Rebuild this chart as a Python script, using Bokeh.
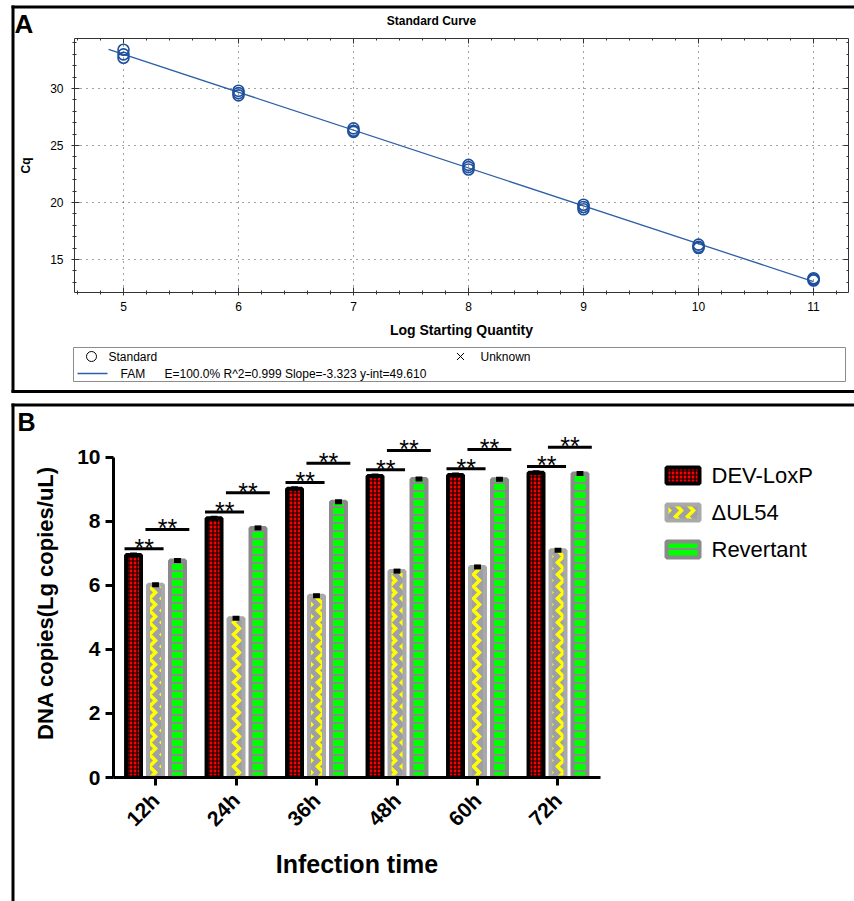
import math
from bokeh.plotting import figure
from bokeh.models import LinearAxis, FixedTicker, SingleIntervalTicker, Range1d
from bokeh.embed import file_html
from bokeh.resources import INLINE
from bokeh.core.properties import value

FONT = "Liberation Sans"

# ---------------- Panel A data (standard curve) ----------------
log_qty = [5, 5, 5, 6, 6, 6, 7, 7, 7, 8, 8, 8, 9, 9, 9, 10, 10, 10, 11, 11, 11]
cq = [33.4, 33.0, 32.7, 29.8, 29.6, 29.4, 26.5, 26.3, 26.2, 23.3, 23.1, 22.9,
      19.8, 19.6, 19.4, 16.3, 16.1, 16.0, 13.35, 13.25, 13.15]
fit_slope = -3.323
fit_intercept = 49.610
fit_eff = "100.0%"
fit_r2 = 0.999
fit_x = [4.87, 11.0]
fit_y = [fit_intercept + fit_slope * v for v in fit_x]
x_major = [5, 6, 7, 8, 9, 10, 11]
y_major = [15, 20, 25, 30]

# ---------------- Panel B data (bar chart) ----------------
times = ["12h", "24h", "36h", "48h", "60h", "72h"]
dev_loxp = [6.95, 8.10, 9.02, 9.42, 9.45, 9.52]
d_ul54 = [6.02, 4.98, 5.68, 6.45, 6.58, 7.10]
revertant = [6.78, 7.80, 8.62, 9.33, 9.32, 9.50]
series_names = ["DEV-LoxP", "\u0394UL54", "Revertant"]
sig_marks = ["**"] * 6

dev_style = dict(fill_color="#ff0000", line_color="black", line_width=4, hatch_pattern="cross",
                 hatch_color="black", hatch_scale=4, hatch_weight=1.2)
ul_style = dict(fill_color="#9e9ea6", line_color="#a9a9a9", line_width=4,
                hatch_pattern="vertical_wave", hatch_color="#ffff00", hatch_scale=12,
                hatch_weight=3.5)
rev_style = dict(fill_color="#00ff00", line_color="#8a8a8a", line_width=4,
                 hatch_pattern="horizontal_line", hatch_color="#8a8a8a", hatch_scale=8,
                 hatch_weight=2)

# ======================= Panel A =======================
pA = figure(width=840, height=381, x_range=(4.574, 11.304), y_range=(12.1, 34.39),
            output_backend="svg", toolbar_location=None,
            min_border_left=60, min_border_right=6, min_border_top=30, min_border_bottom=97,
            styles={"position": "absolute", "left": "14px", "top": "8px"})
pA.outline_line_color = None
pA.xaxis.ticker = SingleIntervalTicker(interval=1, num_minor_ticks=5)
pA.yaxis.ticker = SingleIntervalTicker(interval=5, num_minor_ticks=5)
for ax in (pA.xaxis[0], pA.yaxis[0]):
    ax.axis_line_color = "#333333"
    ax.major_tick_line_color = "#333333"
    ax.minor_tick_line_color = "#333333"
    ax.major_tick_in = 5
    ax.major_tick_out = 3
    ax.minor_tick_in = 2
    ax.minor_tick_out = 2
    ax.major_label_text_font = FONT
    ax.major_label_text_font_size = "12px"
    ax.major_label_text_color = "black"
    ax.axis_label_text_font = FONT
    ax.axis_label_text_font_style = "bold"
    ax.axis_label_text_color = "black"
pA.xaxis.axis_label = "Log Starting Quantity"
pA.xaxis.axis_label_text_font_size = "14px"
pA.yaxis.axis_label = "Cq"
pA.yaxis.axis_label_text_font_size = "12px"
pA.xaxis.major_label_standoff = 6
pA.xaxis.axis_label_standoff = 8
pA.yaxis.major_label_standoff = 8
pA.yaxis.axis_label_standoff = 14

top_ax = LinearAxis(ticker=SingleIntervalTicker(interval=1, num_minor_ticks=5),
                    major_label_overrides={v: "" for v in x_major}, major_label_standoff=0,
                    major_tick_in=5, major_tick_out=0, minor_tick_in=2, minor_tick_out=0,
                    axis_line_color="#333333", major_tick_line_color="#333333",
                    minor_tick_line_color="#333333")
right_ax = LinearAxis(ticker=SingleIntervalTicker(interval=5, num_minor_ticks=5),
                      major_label_overrides={v: "" for v in y_major}, major_label_standoff=0,
                      major_tick_in=5, major_tick_out=0, minor_tick_in=2, minor_tick_out=0,
                      axis_line_color="#333333", major_tick_line_color="#333333",
                      minor_tick_line_color="#333333")
pA.add_layout(top_ax, "above")
pA.add_layout(right_ax, "right")

pA.grid.grid_line_color = "#444444"
pA.grid.grid_line_dash = "1 5"
pA.grid.grid_line_width = 1

pA.line(fit_x, fit_y, line_color="#2d5fa6", line_width=1.3)
pA.scatter(log_qty, cq, marker="circle", size=11, fill_color=None,
           line_color="#1d4f9c", line_width=1.6)

# ======================= Panel B =======================
pB = figure(width=840, height=495, x_range=(0.478, 6.528), y_range=(0, 10.906),
            output_backend="svg", toolbar_location=None,
            min_border_left=99, min_border_right=254, min_border_top=22, min_border_bottom=124,
            styles={"position": "absolute", "left": "14px", "top": "406px"})
pB.outline_line_color = None
pB.grid.visible = False

centers = [i + 1 for i in range(len(times))]
off = 0.273
bw = 0.186
x_dev = [c - off for c in centers]
x_ul = [c for c in centers]
x_rev = [c + off for c in centers]

pB.vbar(x=x_dev, top=dev_loxp, bottom=0, width=bw, **dev_style)
pB.vbar(x=x_ul, top=d_ul54, bottom=0, width=bw, **ul_style)
pB.vbar(x=x_rev, top=revertant, bottom=0, width=bw, **rev_style)

# error caps
pB.rect(x=x_dev + x_ul + x_rev, y=dev_loxp + d_ul54 + revertant, width=0.085, height=5,
        height_units="screen", fill_color="black", line_color=None)

# significance brackets
y1 = [v + 0.2 for v in dev_loxp]
y2 = [v + 0.8 for v in dev_loxp]
pB.segment(x0=[c - 0.385 for c in centers], y0=y1, x1=[c + 0.10 for c in centers], y1=y1,
           line_color="black", line_width=3)
pB.segment(x0=[c - 0.125 for c in centers], y0=y2, x1=[c + 0.42 for c in centers], y1=y2,
           line_color="black", line_width=3)
pB.text(x=[c - 0.14 for c in centers], y=y1, text=sig_marks, text_align="center",
        text_baseline="alphabetic", y_offset=-1, text_font=value(FONT), text_font_size="25px")
pB.text(x=[c + 0.15 for c in centers], y=y2, text=sig_marks, text_align="center",
        text_baseline="alphabetic", y_offset=-1, text_font=value(FONT), text_font_size="25px")

pB.yaxis.ticker = FixedTicker(ticks=[0, 2, 4, 6, 8, 10])
pB.yaxis.bounds = (0, 10)
pB.xaxis.ticker = FixedTicker(ticks=centers)
pB.xaxis.major_label_overrides = {c: t for c, t in zip(centers, times)}
pB.xaxis.major_label_orientation = math.pi / 4
for ax in (pB.xaxis[0], pB.yaxis[0]):
    ax.axis_line_width = 3
    ax.axis_line_color = "black"
    ax.major_tick_line_width = 3
    ax.major_tick_line_color = "black"
    ax.major_tick_in = 0
    ax.major_tick_out = 8
    ax.minor_tick_line_color = None
    ax.major_label_text_font = FONT
    ax.major_label_text_font_style = "bold"
    ax.major_label_text_color = "black"
    ax.axis_label_text_font = FONT
    ax.axis_label_text_font_style = "bold"
    ax.axis_label_text_color = "black"
pB.yaxis.major_label_text_font_size = "21px"
pB.xaxis.major_label_text_font_size = "21px"
pB.yaxis.axis_label = "DNA copies(Lg copies/uL)"
pB.yaxis.axis_label_text_font_size = "22px"
pB.xaxis.axis_label = "Infection time"
pB.xaxis.axis_label_text_font_size = "25px"
pB.yaxis.major_label_standoff = 5
pB.xaxis.major_label_standoff = 11
pB.xaxis.axis_label_standoff = 9
pB.yaxis.axis_label_standoff = 16

# ======================= Overlay (page pixels) =======================
ov = figure(width=854, height=901, x_range=Range1d(0, 854), y_range=Range1d(901, 0),
            output_backend="svg", toolbar_location=None, min_border=0,
            styles={"position": "absolute", "left": "0px", "top": "0px"})
ov.axis.visible = False
ov.grid.visible = False
ov.outline_line_color = None
ov.background_fill_color = None
ov.border_fill_color = None

# panel borders
ov.segment(x0=[12.5, 11, 11, 12.5, 11], y0=[5, 6.5, 391, 403, 404.5],
           x1=[12.5, 854, 854, 12.5, 854], y1=[392, 6.5, 391, 901, 404.5],
           line_color="black", line_width=3)

def txt(x, y, s, size, bold=False, align="left", baseline="middle", font=FONT):
    ov.text(x=[x], y=[y], text=[s], text_font=value(font), text_font_size=size,
            text_font_style="bold" if bold else "normal", text_align=align,
            text_baseline=baseline, text_color="black")

txt(14, 23, "A", "26px", bold=True)
txt(17, 421, "B", "25px", bold=True)
txt(431, 20, "Standard Curve", "12px", bold=True, align="center")

# Panel A legend box
ov.quad(left=[73], right=[845], top=[347], bottom=[381], fill_color=None,
        line_color="#8c8c8c", line_width=1)
ov.scatter(x=[91], y=[356], marker="circle", size=10, fill_color=None,
           line_color="black", line_width=1)
txt(108, 356, "Standard", "12px")
ov.scatter(x=[460], y=[356], marker="x", size=10, line_color="black", line_width=1)
txt(480, 356, "Unknown", "12px")
ov.line(x=[77, 107], y=[373, 373], line_color="#2d5fa6", line_width=1.5)
txt(120, 373, "FAM", "12px")
fit_text = f"E={fit_eff} R^2={fit_r2:.3f} Slope={fit_slope:.3f} y-int={fit_intercept:.3f}"
txt(164, 373, fit_text, "12px")

# Panel B legend
leg_y = [475, 512, 549]
for yy, st, name in zip(leg_y, [dev_style, ul_style, rev_style], series_names):
    ov.quad(left=[666], right=[699], top=[yy - 8], bottom=[yy + 8], **st)
    txt(711, yy, name, "22px")

open("out.html", "w").write(file_html([pA, pB, ov], INLINE))
